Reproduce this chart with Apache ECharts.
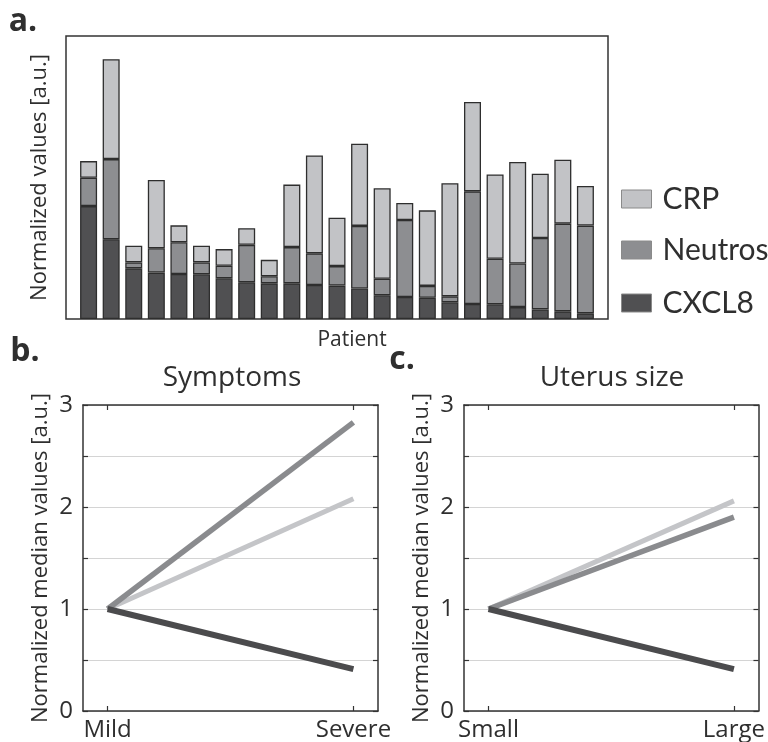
<!DOCTYPE html>
<html><head><meta charset="utf-8">
<script src="https://cdn.jsdelivr.net/npm/echarts@6/dist/echarts.min.js"></script>
<style>html,body{margin:0;padding:0;background:#fff}#c{width:768px;height:742px}</style>
</head><body><div id="c"></div>
<script>
// ---- data ----
const patients = ['1','2','3','4','5','6','7','8','9','10','11','12','13','14','15','16','17','18','19','20','21','22','23'];
const cxcl8   = [3.99,2.82,1.79,1.64,1.59,1.58,1.44,1.30,1.26,1.26,1.20,1.18,1.08,0.84,0.78,0.75,0.59,0.53,0.52,0.42,0.34,0.27,0.20];
const neutros = [1.00,2.83,0.21,0.86,1.12,0.42,0.44,1.32,0.25,1.28,1.12,0.69,2.21,0.58,2.72,0.42,0.21,3.98,1.61,1.54,2.52,3.10,3.10];
const crp     = [0.59,3.53,0.59,2.41,0.60,0.59,0.59,0.59,0.58,2.21,3.46,1.71,2.90,3.20,0.60,2.67,4.00,3.16,2.98,3.59,2.27,2.26,1.40];

const symptomCats = ['Mild','Severe'];
const symCRP     = [1, 2.08];
const symNeutros = [1, 2.83];
const symCXCL8   = [1, 0.41];

const uterusCats = ['Small','Large'];
const utCRP     = [1, 2.06];
const utNeutros = [1, 1.90];
const utCXCL8   = [1, 0.41];

const yTicks = [0,1,2,3];

// ---- styling ----
const F = '"Open Sans", sans-serif';
const FL = 'Lato, "Open Sans", sans-serif';
const TXT = '#2f2f2f';
const C_CRP = '#c2c3c6', C_NEU = '#8d8e91', C_CX = '#505052';
const L_CRP = '#c4c5c8', L_NEU = '#8a8b8e', L_CX = '#4b4b4d';

const chart = echarts.init(document.getElementById('c'), null, {renderer:'canvas'});

function toXY(vals){ return vals.map((v,i)=>[i+1, v]); }
// padded category list: an empty slot on each side of the patients (x-limits 0..24)
const barCats = [''].concat(patients, ['']);
function padded(vals){ return ['-'].concat(vals, ['-']); }

function lineAxesX(cats, gi){
  const base = {
    gridIndex: gi, type:'value', min:0.9, max:2.1,
    axisLine:{show:true, onZero:false, lineStyle:{color:'#333', width:1.5}},
    splitLine:{show:false}
  };
  return [
    Object.assign({}, base, {position:'bottom',
      axisTick:{show:true, inside:true, length:5, customValues:[1,2], lineStyle:{color:'#333', width:1.2}},
      axisLabel:{show:true, customValues:[1,2], margin:7, fontSize:24, fontFamily:F, color:TXT,
        formatter:v=>cats[Math.round(v)-1] || ''}}),
    Object.assign({}, base, {position:'top',
      axisTick:{show:true, inside:true, length:5, customValues:[1,2], lineStyle:{color:'#333', width:1.2}},
      axisLabel:{show:false}})
  ];
}
function lineAxesY(gi){
  const base = {
    gridIndex: gi, type:'value', min:0, max:3, interval:0.5,
    axisLine:{show:true, onZero:false, lineStyle:{color:'#333', width:1.5}},
    axisTick:{show:true, inside:true, length:5, lineStyle:{color:'#333', width:1.2}}
  };
  return [
    Object.assign({}, base, {position:'left',
      splitLine:{show:true, lineStyle:{color:'#d4d4d4', width:1}},
      axisLabel:{show:true, margin:10, fontSize:24, fontFamily:F, color:TXT,
        formatter:v=> yTicks.indexOf(v) >= 0 ? String(v) : ''},
      name:'Normalized median values [a.u.]', nameLocation:'middle', nameGap:31,
      nameTextStyle:{fontSize:22, fontFamily:F, color:TXT}}),
    Object.assign({}, base, {position:'right', splitLine:{show:false}, axisLabel:{show:false}})
  ];
}

function lineSeries(xi, yi, crpV, neuV, cxV){
  const mk = (name, vals, color, w) => ({
    type:'line', name, xAxisIndex:xi, yAxisIndex:yi, data:toXY(vals),
    symbol:'none', lineStyle:{color, width:w, cap:'butt'}, silent:true, animation:false
  });
  return [mk('CRP', crpV, L_CRP, 5), mk('Neutros', neuV, L_NEU, 5.5), mk('CXCL8', cxV, L_CX, 6)];
}

const barBase = {type:'bar', stack:'p', xAxisIndex:0, yAxisIndex:0, barWidth:17, animation:false};

const option = {
  backgroundColor:'#fff',
  animation:false,
  grid:[
    {left:66, top:36, width:542, height:283, show:true, borderColor:'#333', borderWidth:1.5, backgroundColor:'transparent'},
    {left:83, top:405, width:295, height:307},
    {left:464, top:405, width:295, height:307}
  ],
  xAxis:[
    {gridIndex:0, type:'category', data:barCats, boundaryGap:false, axisLine:{show:false}, axisTick:{show:false}, axisLabel:{show:false}, splitLine:{show:false}},
    ...lineAxesX(symptomCats, 1),
    ...lineAxesX(uterusCats, 2)
  ],
  yAxis:[
    {gridIndex:0, type:'value', min:0, max:10, axisLine:{show:false}, axisTick:{show:false}, axisLabel:{show:false}, splitLine:{show:false},
     name:'Normalized values [a.u.]', nameLocation:'middle', nameGap:15, nameTextStyle:{fontSize:22, fontFamily:F, color:TXT}},
    ...lineAxesY(1),
    ...lineAxesY(2)
  ],
  legend:[
    {data:['CRP'], left:621, top:184},
    {data:['Neutros'], left:621, top:235},
    {data:['CXCL8'], left:621, top:288}
  ].map(l=>Object.assign(l, {orient:'vertical', icon:'rect', itemWidth:30, itemHeight:18, padding:0,
      itemStyle:{borderColor:'#8a8a8a', borderWidth:1},
      textStyle:{fontSize:30, fontFamily:FL, color:TXT, lineHeight:30, padding:[0,0,0,6]}, selectedMode:false})),
  series:[
    Object.assign({}, barBase, {name:'CXCL8', data:padded(cxcl8), itemStyle:{color:C_CX, borderColor:'#2e2e2e', borderWidth:1.3}}),
    Object.assign({}, barBase, {name:'Neutros', data:padded(neutros), itemStyle:{color:C_NEU, borderColor:'#2e2e2e', borderWidth:1.3}}),
    Object.assign({}, barBase, {name:'CRP', data:padded(crp), itemStyle:{color:C_CRP, borderColor:'#2e2e2e', borderWidth:1.3}}),
    ...lineSeries(1, 1, symCRP, symNeutros, symCXCL8),
    ...lineSeries(3, 3, utCRP, utNeutros, utCXCL8)
  ],
  graphic:[
    {type:'text', style:{x:23, y:22, text:'a.', font:'bold 32px '+F, fill:TXT, textAlign:'center', textVerticalAlign:'middle', align:'center', verticalAlign:'middle'}},
    {type:'text', style:{x:25, y:352, text:'b.', font:'bold 32px '+F, fill:TXT, textAlign:'center', textVerticalAlign:'middle', align:'center', verticalAlign:'middle'}},
    {type:'text', style:{x:402, y:360, text:'c.', font:'bold 32px '+F, fill:TXT, textAlign:'center', textVerticalAlign:'middle', align:'center', verticalAlign:'middle'}},
    {type:'text', style:{x:352, y:340, text:'Patient', font:'21px '+F, fill:TXT, textAlign:'center', textVerticalAlign:'middle', align:'center', verticalAlign:'middle'}},
    {type:'text', style:{x:232, y:378, text:'Symptoms', font:'28px '+F, fill:TXT, textAlign:'center', textVerticalAlign:'middle', align:'center', verticalAlign:'middle'}},
    {type:'text', style:{x:612, y:378, text:'Uterus size', font:'28px '+F, fill:TXT, textAlign:'center', textVerticalAlign:'middle', align:'center', verticalAlign:'middle'}}
  ]
};
chart.setOption(option);
</script></body></html>
